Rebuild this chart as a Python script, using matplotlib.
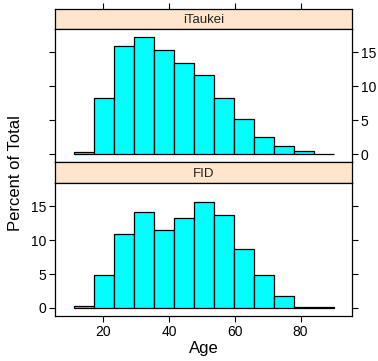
import numpy as np
import matplotlib
matplotlib.use("Agg")
import matplotlib.pyplot as plt

plt.rcParams['font.family'] = ['Liberation Sans', 'DejaVu Sans']

# histogram bins (Age), 13 equal bins
age_min = 11
age_max = 90
n_bins = 13

panels = ["iTaukei", "FID"]
pct_itaukei = [0.3, 8.35, 15.9, 17.3, 15.4, 13.4, 11.65, 8.26, 5.16, 2.55, 1.22, 0.44, 0.05]
pct_fid = [0.3, 4.87, 10.9, 14.16, 11.46, 13.28, 15.64, 13.77, 8.7, 4.87, 1.77, 0.15, 0.05]
x_ticks = [20, 40, 60, 80]
y_ticks = [0, 5, 10, 15]

edges = np.linspace(age_min, age_max, n_bins + 1)
pad = 0.07
xr = age_max - age_min
xlim = (age_min - pad * xr, age_max + pad * xr)
ymax = max(max(pct_itaukei), max(pct_fid))
ylim = (-pad * ymax, ymax * (1 + pad))

W, H = 378, 361
fig = plt.figure(figsize=(W / 100, H / 100), dpi=100)

left, right = 55.4, 351.7
strip_bg = "#FFE5CC"


def fbox(x0, y0, x1, y1):
    return [x0 / W, 1 - y1 / H, (x1 - x0) / W, (y1 - y0) / H]


def draw_panel(box, values, labels_left, bottom_labels):
    ax = fig.add_axes(box)
    ax.bar(edges[:-1], values, width=np.diff(edges), align='edge',
           color='cyan', edgecolor='black', linewidth=0.9)
    ax.set_xlim(*xlim)
    ax.set_ylim(*ylim)
    ax.set_yticks(y_ticks)
    ax.set_xticks(x_ticks)
    ax.tick_params(axis='both', direction='out', length=4.5, width=0.8,
                   labelsize=10, pad=2)
    ax.tick_params(axis='y', left=True, right=True,
                   labelleft=labels_left, labelright=not labels_left)
    ax.tick_params(axis='x', bottom=bottom_labels, top=False,
                   labelbottom=bottom_labels, labeltop=False)
    for s in ax.spines.values():
        s.set_linewidth(0.9)
    return ax


def draw_strip(box, text, top_ticks=False):
    st = fig.add_axes(box)
    st.set_facecolor(strip_bg)
    st.set_xlim(*xlim)
    st.set_ylim(0, 1)
    st.text(0.5, 0.45, text, transform=st.transAxes, ha='center', va='center',
            fontsize=9.5, color='#222222')
    st.set_yticks([])
    if top_ticks:
        st.set_xticks(x_ticks)
        st.tick_params(axis='x', bottom=False, top=True, labelbottom=False,
                       labeltop=False, direction='out', length=4.5, width=0.8)
    else:
        st.set_xticks([])
    for s in st.spines.values():
        s.set_linewidth(0.9)
    return st


draw_strip(fbox(left, 9.4, right, 28.7), panels[0], top_ticks=True)
draw_panel(fbox(left, 28.7, right, 162.3), pct_itaukei, False, False)
draw_strip(fbox(left, 162.3, right, 182.7), panels[1])
draw_panel(fbox(left, 182.7, right, 316.0), pct_fid, True, True)

fig.text(16 / W, 1 - 173 / H, "Percent of Total", rotation=90, ha='center',
         va='center', fontsize=12)
fig.text((left + right) / 2 / W, 1 - 348 / H, "Age", ha='center',
         va='center', fontsize=12)

fig.savefig("out.png", dpi=100)
